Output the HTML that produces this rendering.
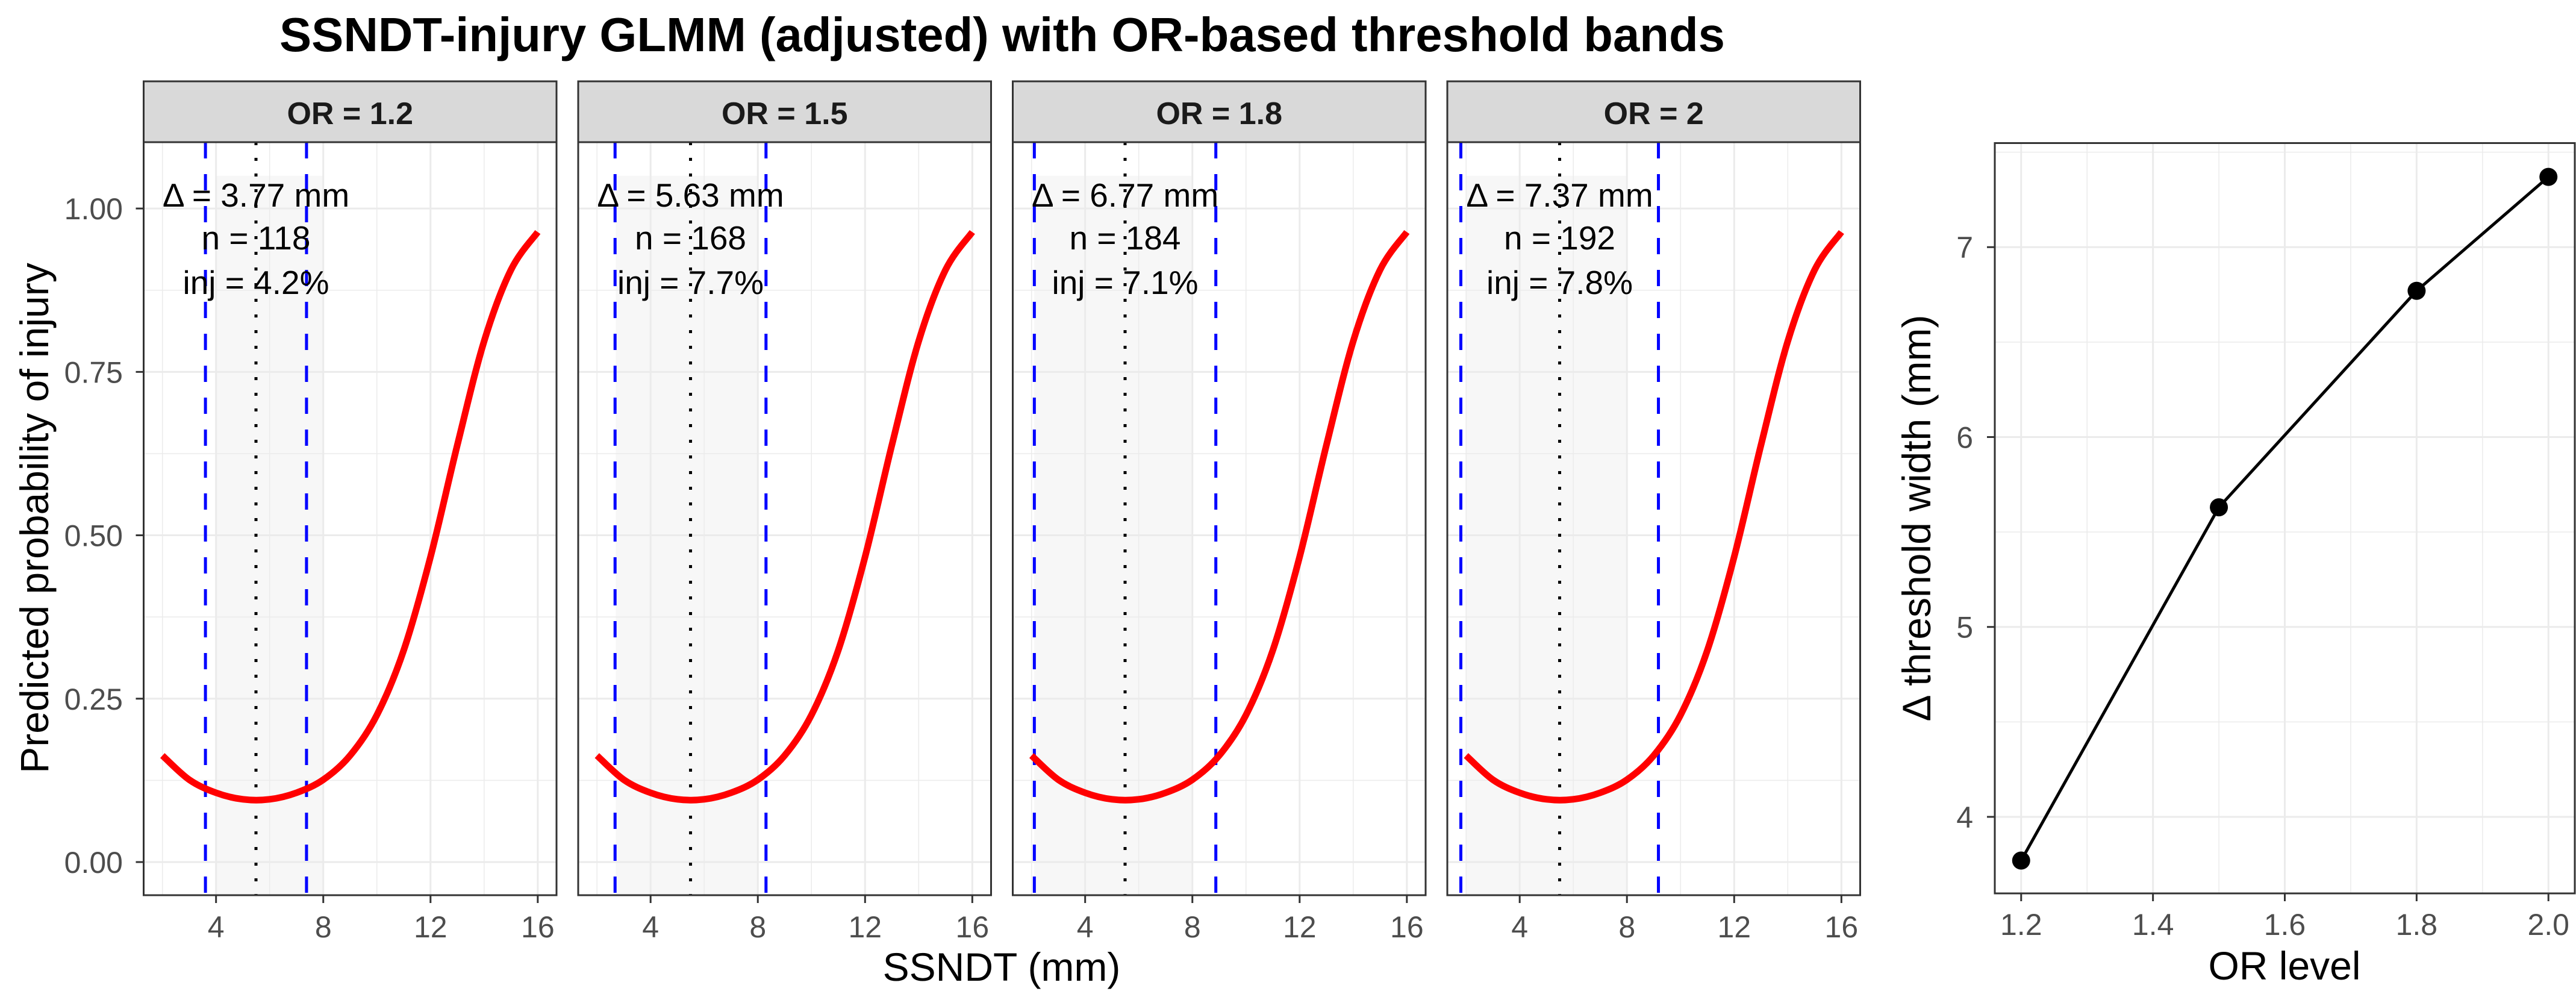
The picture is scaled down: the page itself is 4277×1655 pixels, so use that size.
<!DOCTYPE html>
<html><head><meta charset="utf-8"><style>
html,body{margin:0;padding:0;background:#fff;}
svg{display:block;font-family:"Liberation Sans",Arial,sans-serif;}
</style></head><body>
<svg id="chart" width="4277" height="1655" viewBox="0 0 4277 1655" xmlns="http://www.w3.org/2000/svg">
<rect x="0" y="0" width="4277" height="1655" fill="#fff"/>
<text x="1664" y="85" font-size="80" font-weight="bold" text-anchor="middle" textLength="2400" lengthAdjust="spacingAndGlyphs" fill="#000">SSNDT-injury GLMM (adjusted) with OR-based threshold bands</text>
<text transform="translate(80,860) rotate(-90)" font-size="66" text-anchor="middle" fill="#000">Predicted probability of injury</text>
<text x="1663" y="1628" font-size="66" text-anchor="middle" fill="#000">SSNDT (mm)</text>
<text transform="translate(3205,860) rotate(-90)" font-size="66" text-anchor="middle" fill="#000">Δ threshold width (mm)</text>
<text x="3793" y="1626" font-size="66" text-anchor="middle" fill="#000">OR level</text>
<g id="panels"></g>
<g id="right"></g>
</svg>
<script>
// ---- data: facet panels ----
const orLabels = ["OR = 1.2", "OR = 1.5", "OR = 1.8", "OR = 2"];
const deltaVals = [3.77, 5.63, 6.77, 7.37];
const nVals = [118, 168, 184, 192];
const injVals = [4.2, 7.7, 7.1, 7.8];
const centerX = 5.49;
const shadeLo = [4.0, 2.7, 2.1, 2.0];
const shadeHi = [8.0, 8.0, 8.0, 8.0];
// predicted probability curve
const curveX = [2, 3, 4, 5, 6, 7, 8, 9, 10, 11, 12, 13, 14, 15, 16];
const curveP = [0.163, 0.126, 0.106, 0.096, 0.096, 0.106, 0.126, 0.163, 0.225, 0.324, 0.467, 0.638, 0.797, 0.906, 0.964];
const xTicks = [4, 8, 12, 16];
const xMinor = [2, 6, 10, 14];
const yTicks = [0, 0.25, 0.5, 0.75, 1.0];
const yTickLabels = ["0.00", "0.25", "0.50", "0.75", "1.00"];
const yMinor = [0.125, 0.375, 0.625, 0.875];
// ---- data: right plot ----
const orLevels = [1.2, 1.5, 1.8, 2.0];
const widthVals = [3.77, 5.63, 6.77, 7.37];
const rxTicks = [1.2, 1.4, 1.6, 1.8, 2.0];
const rxTickLabels = ["1.2", "1.4", "1.6", "1.8", "2.0"];
const rxMinor = [1.3, 1.5, 1.7, 1.9];
const ryTicks = [4, 5, 6, 7];
const ryMinor = [4.5, 5.5, 6.5, 7.5];

const NS = "http://www.w3.org/2000/svg";
function mk(tag, attrs, parent) {
  const e = document.createElementNS(NS, tag);
  for (const k in attrs) e.setAttribute(k, attrs[k]);
  parent.appendChild(e);
  return e;
}
const panelsG = document.getElementById("panels");
const PW = 685.5, GAP = 36, P0 = 238.5, PT = 236, PB = 1486, STRIPTOP = 135;
const XMIN = 1.3, XMAX = 16.7, YMIN = -0.0507, YMAX = 1.1015;

for (let i = 0; i < orLabels.length; i++) {
  const L = P0 + i * (PW + GAP), R = L + PW;
  const sx = v => L + (v - XMIN) / (XMAX - XMIN) * PW;
  const sy = v => PB - (v - YMIN) / (YMAX - YMIN) * (PB - PT);
  const g = mk("g", {}, panelsG);
  
  
  const shade = mk("rect", {x: sx(shadeLo[i]), y: sy(1.05), width: sx(shadeHi[i]) - sx(shadeLo[i]), height: PB - sy(1.05), fill: "#f7f7f7"}, g);
  
  
  xMinor.forEach(v => { const l = mk("line", {x1: sx(v), x2: sx(v), y1: PT, y2: PB, stroke: "#ebebeb", "stroke-width": 1.5}, g);
      });
  yMinor.forEach(v => { const l = mk("line", {x1: L, x2: R, y1: sy(v), y2: sy(v), stroke: "#ebebeb", "stroke-width": 1.5}, g);
      });
  xTicks.forEach(v => { const l = mk("line", {x1: sx(v), x2: sx(v), y1: PT, y2: PB, stroke: "#ebebeb", "stroke-width": 3}, g);
      });
  yTicks.forEach(v => { const l = mk("line", {x1: L, x2: R, y1: sy(v), y2: sy(v), stroke: "#ebebeb", "stroke-width": 3}, g);
      });
  const pts = curveX.map((x, k) => [sx(x), sy(curveP[k])]);
  let d = "M" + pts[0][0] + "," + pts[0][1];
  for (let k = 0; k < pts.length - 1; k++) {
    const p0 = pts[Math.max(0, k - 1)], p1 = pts[k], p2 = pts[k + 1], p3 = pts[Math.min(pts.length - 1, k + 2)];
    const c1 = [p1[0] + (p2[0] - p0[0]) / 6, p1[1] + (p2[1] - p0[1]) / 6];
    const c2 = [p2[0] - (p3[0] - p1[0]) / 6, p2[1] - (p3[1] - p1[1]) / 6];
    d += " C" + c1[0] + "," + c1[1] + " " + c2[0] + "," + c2[1] + " " + p2[0] + "," + p2[1];
  }
  const lo = centerX - deltaVals[i] / 2, hi = centerX + deltaVals[i] / 2;
  [lo, hi].forEach(v => { const l = mk("line", {x1: sx(v), x2: sx(v), y1: PT, y2: PB, stroke: "#0000ff", "stroke-width": 5, "stroke-dasharray": "27 26"}, g);
      });
  const dl = mk("line", {x1: sx(centerX), x2: sx(centerX), y1: PT, y2: PB, stroke: "#000", "stroke-width": 5, "stroke-dasharray": "5 21"}, g);
  
  
  const c = mk("path", {d: d, fill: "none", stroke: "#ff0000", "stroke-width": 11, "stroke-linecap": "butt"}, g);
  
  
  const lines = ["Δ = " + deltaVals[i].toFixed(2) + " mm", "n = " + nVals[i], "inj = " + injVals[i].toFixed(1) + "%"];
  const bases = [343, 414, 488];
  lines.forEach((s, k) => { const t = mk("text", {x: sx(centerX), y: bases[k], "font-size": 55, "text-anchor": "middle", fill: "#000"}, g);
    t.textContent = s;   });
  const border = mk("rect", {x: L, y: PT, width: PW, height: PB - PT, fill: "none", stroke: "#333", "stroke-width": 3}, g);
  
  
  const strip = mk("rect", {x: L, y: STRIPTOP, width: PW, height: PT - STRIPTOP, fill: "#d9d9d9", stroke: "#333", "stroke-width": 3}, g);
  
  
  const st = mk("text", {x: (L + R) / 2, y: 206, "font-size": 52, "font-weight": "bold", "text-anchor": "middle", fill: "#1a1a1a"}, g);
  st.textContent = orLabels[i];
  
  
  xTicks.forEach(v => {
    const tk = mk("line", {x1: sx(v), x2: sx(v), y1: PB, y2: PB + 13, stroke: "#333", "stroke-width": 3}, g);
     
    const tl = mk("text", {x: sx(v), y: 1556, "font-size": 50, "text-anchor": "middle", fill: "#4d4d4d"}, g);
    tl.textContent = String(v);  
  });
  if (i === 0) {
    yTicks.forEach((v, k) => {
      const tk = mk("line", {x1: L - 13, x2: L, y1: sy(v), y2: sy(v), stroke: "#333", "stroke-width": 3}, g);
       
      const tl = mk("text", {x: 204, y: sy(v) + 18, "font-size": 50, "text-anchor": "end", fill: "#4d4d4d"}, g);
      tl.textContent = yTickLabels[k];  
    });
  }
}

// ---- right plot ----
const rg = document.getElementById("right");
const RL = 3312, RR = 4275, RT = 237.5, RB = 1483;
const RXMIN = 1.16, RXMAX = 2.04, RYMIN = 3.597, RYMAX = 7.548;
const rx = v => RL + (v - RXMIN) / (RXMAX - RXMIN) * (RR - RL);
const ry = v => RB - (v - RYMIN) / (RYMAX - RYMIN) * (RB - RT);
rxMinor.forEach(v => { const l = mk("line", {x1: rx(v), x2: rx(v), y1: RT, y2: RB, stroke: "#ebebeb", "stroke-width": 1.5}, rg);
    });
ryMinor.forEach(v => { const l = mk("line", {x1: RL, x2: RR, y1: ry(v), y2: ry(v), stroke: "#ebebeb", "stroke-width": 1.5}, rg);
    });
rxTicks.forEach(v => { const l = mk("line", {x1: rx(v), x2: rx(v), y1: RT, y2: RB, stroke: "#ebebeb", "stroke-width": 3}, rg);
    });
ryTicks.forEach(v => { const l = mk("line", {x1: RL, x2: RR, y1: ry(v), y2: ry(v), stroke: "#ebebeb", "stroke-width": 3}, rg);
    });
const lp = mk("polyline", {points: orLevels.map((o, k) => rx(o) + "," + ry(widthVals[k])).join(" "), fill: "none", stroke: "#000", "stroke-width": 5}, rg);


orLevels.forEach((o, k) => { const c = mk("circle", {cx: rx(o), cy: ry(widthVals[k]), r: 15, fill: "#000"}, rg);
    });
const rb = mk("rect", {x: RL, y: RT, width: RR - RL, height: RB - RT, fill: "none", stroke: "#333", "stroke-width": 3}, rg);


rxTicks.forEach((v, k) => {
  const tk = mk("line", {x1: rx(v), x2: rx(v), y1: RB, y2: RB + 13, stroke: "#333", "stroke-width": 3}, rg);
   
  const tl = mk("text", {x: rx(v), y: 1552, "font-size": 50, "text-anchor": "middle", fill: "#4d4d4d"}, rg);
  tl.textContent = rxTickLabels[k];  
});
ryTicks.forEach(v => {
  const tk = mk("line", {x1: RL - 13, x2: RL, y1: ry(v), y2: ry(v), stroke: "#333", "stroke-width": 3}, rg);
   
  const tl = mk("text", {x: 3276, y: ry(v) + 18, "font-size": 50, "text-anchor": "end", fill: "#4d4d4d"}, rg);
  tl.textContent = String(v);  
});
</script>
</body></html>
